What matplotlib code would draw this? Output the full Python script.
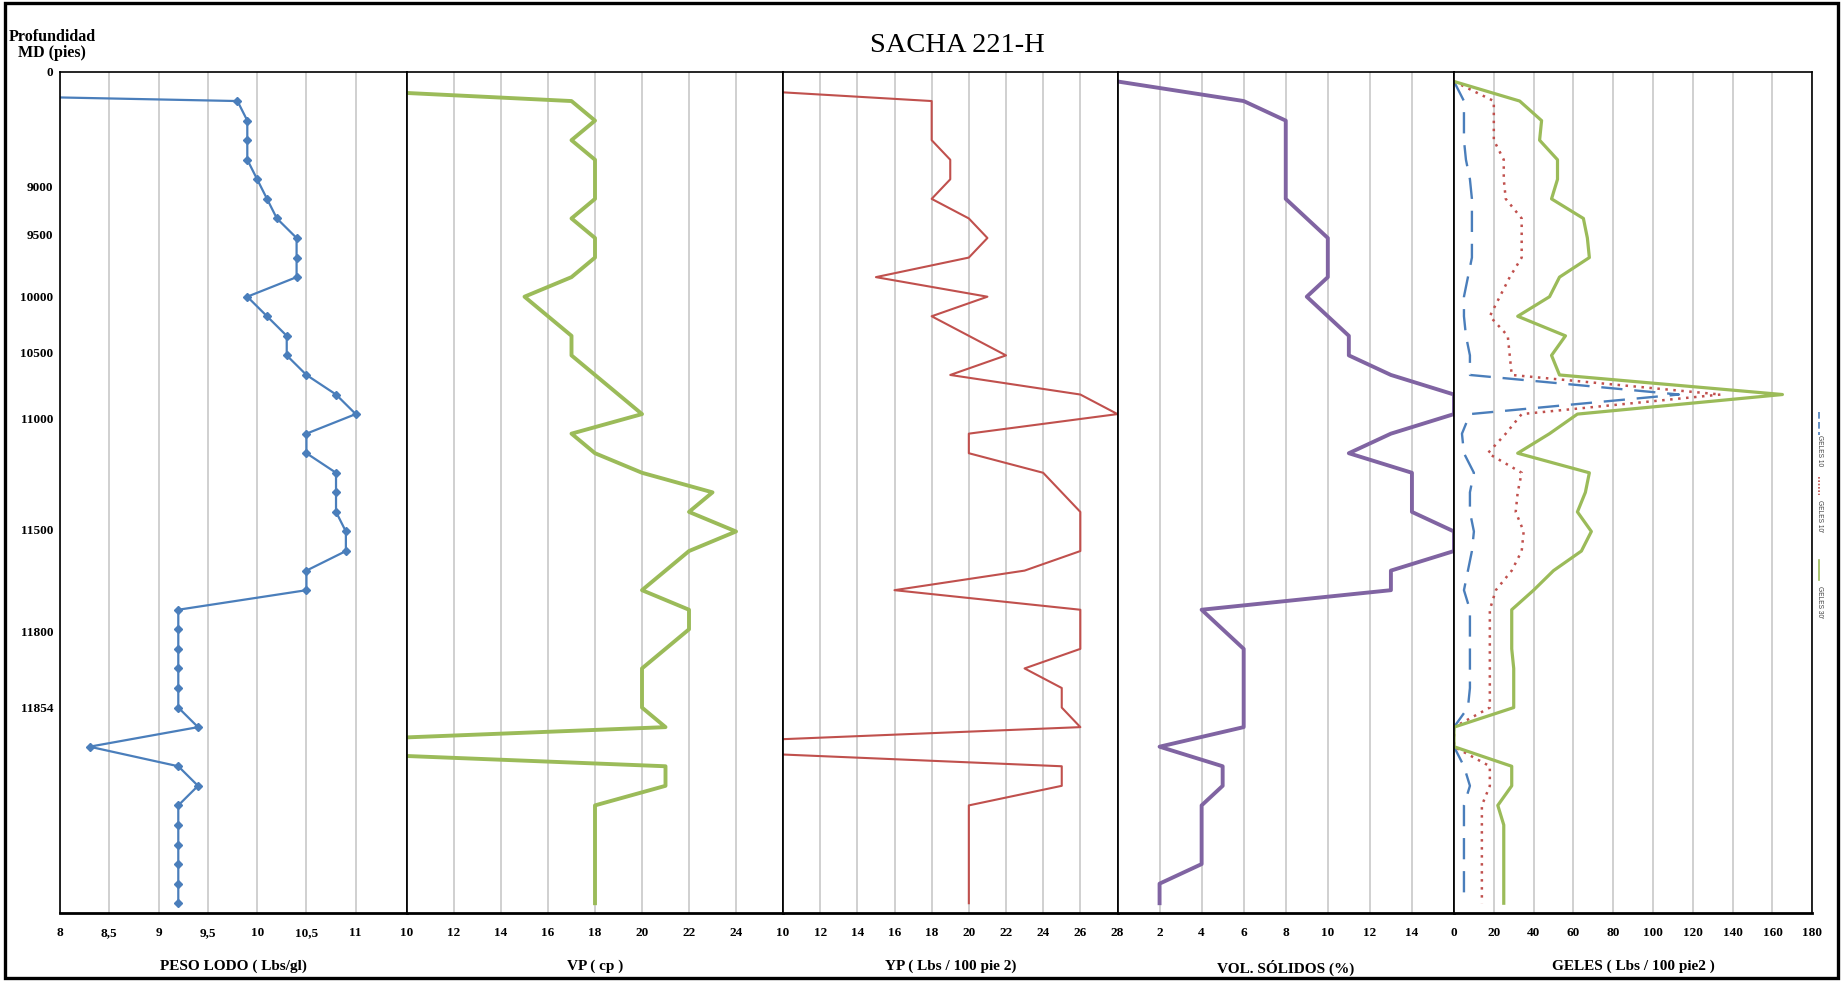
import numpy as np
import matplotlib.pyplot as plt
from matplotlib.lines import Line2D
from matplotlib.patches import Rectangle

plt.rcParams['font.family'] = ['Liberation Serif', 'DejaVu Serif']

# one value per sample, top to bottom of the well (43 samples)
peso_lodo = [0, 9.8, 9.9, 9.9, 9.9, 10.0, 10.1, 10.2, 10.4, 10.4, 10.4, 9.9, 10.1, 10.3, 10.3,
             10.5, 10.8, 11.0, 10.5, 10.5, 10.8, 10.8, 10.8, 10.9, 10.9, 10.5, 10.5, 9.2, 9.2,
             9.2, 9.2, 9.2, 9.2, 9.4, 8.3, 9.2, 9.4, 9.2, 9.2, 9.2, 9.2, 9.2, 9.2]
vp = [0, 17, 18, 17, 18, 18, 18, 17, 18, 18, 17, 15, 16, 17, 17, 18, 19, 20, 17, 18, 20, 23,
      22, 24, 22, 21, 20, 22, 22, 21, 20, 20, 20, 21, 0, 21, 21, 18, 18, 18, 18, 18, 18]
yp = [0, 18, 18, 18, 19, 19, 18, 20, 21, 20, 15, 21, 18, 20, 22, 19, 26, 28, 20, 20, 24, 25,
      26, 26, 26, 23, 16, 26, 26, 26, 23, 25, 25, 26, 0, 25, 25, 20, 20, 20, 20, 20, 20]
vol_solidos = [0, 6, 8, 8, 8, 8, 8, 9, 10, 10, 10, 9, 10, 11, 11, 13, 16, 16, 13, 11, 14, 14,
               14, 16, 16, 13, 13, 4, 5, 6, 6, 6, 6, 6, 2, 5, 5, 4, 4, 4, 4, 2, 2]
geles_10 = [0, 5, 5, 5, 6, 8, 9, 9, 9, 9, 7, 5, 5, 6, 8, 8, 113, 8, 4, 5, 10, 8, 8, 10, 9, 7,
            5, 8, 8, 8, 8, 8, 7, 0, 0, 5, 8, 5, 5, 5, 5, 5, 5]
geles_10b = [0, 20, 20, 20, 25, 25, 26, 34, 34, 34, 28, 23, 18, 27, 28, 29, 134, 34, 26, 17,
             34, 32, 31, 35, 34, 29, 21, 18, 18, 18, 18, 18, 18, 0, 0, 18, 18, 14, 14, 14, 14, 14, 14]
geles_30 = [0, 33, 44, 43, 52, 52, 49, 65, 67, 68, 53, 48, 32, 56, 49, 53, 165, 62, 48, 32,
            68, 66, 62, 69, 64, 50, 40, 29, 29, 29, 30, 30, 30, 0, 0, 29, 29, 22, 25, 25, 25, 25, 25]

depth_labels = ['0', '9000', '9500', '10000', '10500', '11000', '11500', '11800', '11854']
depth_label_pos = [-0.5, 5.35, 7.8, 11.0, 13.85, 17.2, 22.9, 28.1, 32.0]

idx = np.arange(len(peso_lodo))

W, H = 1843, 981
fig = plt.figure(figsize=(W / 100, H / 100), dpi=100)

edges = [60, 407, 783, 1117.5, 1454, 1812.3]
top, bottom = 71.7, 913

panels = [
    dict(xlim=(8, 11.52), ticks=np.arange(8, 11.01, 0.5),
         labels=['8', '8,5', '9', '9,5', '10', '10,5', '11'], xlabel='PESO LODO ( Lbs/gl)'),
    dict(xlim=(10, 26), ticks=np.arange(10, 27, 2),
         labels=[str(v) for v in range(10, 25, 2)] + [''], xlabel='VP ( cp )'),
    dict(xlim=(10, 28), ticks=np.arange(10, 29, 2),
         labels=[str(v) for v in range(10, 29, 2)], xlabel='YP ( Lbs / 100 pie 2)'),
    dict(xlim=(0, 16), ticks=np.arange(0, 17, 2),
         labels=[''] + [str(v) for v in range(2, 15, 2)] + [''], xlabel='VOL. SÓLIDOS (%)'),
    dict(xlim=(0, 180), ticks=np.arange(0, 181, 20),
         labels=[str(v) for v in range(0, 181, 20)], xlabel='GELES ( Lbs / 100 pie2 )'),
]

axes = []
for k, p in enumerate(panels):
    x0, x1 = edges[k], edges[k + 1]
    ax = fig.add_axes([x0 / W, 1 - bottom / H, (x1 - x0) / W, (bottom - top) / H])
    ax.set_xlim(*p['xlim'])
    ax.set_ylim(len(idx) - 0.5, -0.5)
    ax.set_xticks(p['ticks'], p['labels'])
    ax.tick_params(axis='x', length=0, pad=10, labelsize=9.5)
    for t in ax.get_xticklabels():
        t.set_fontweight('bold')
    ax.set_yticks([])
    ax.grid(axis='x', color='#c4c4c4', lw=1.1)
    ax.set_axisbelow(True)
    for s in ax.spines.values():
        s.set_color('black')
        s.set_linewidth(1.2)
    ax.spines['bottom'].set_linewidth(2)
    ax.set_xlabel(p['xlabel'], fontsize=11, fontweight='bold', labelpad=15)
    axes.append(ax)

# depth labels on the first track
axes[0].set_yticks(depth_label_pos, depth_labels)
axes[0].tick_params(axis='y', length=0, pad=5, labelsize=9.5)
for t in axes[0].get_yticklabels():
    t.set_fontweight('bold')

axes[0].plot(peso_lodo, idx, color='#4a7ebb', lw=1.6, marker='D', markersize=3.8)
axes[1].plot(vp, idx, color='#9bbb59', lw=2.8)
axes[2].plot(yp, idx, color='#c0504d', lw=1.5)
axes[3].plot(vol_solidos, idx, color='#8064a2', lw=2.8)
axes[4].plot(geles_10, idx, color='#4a7ebb', lw=1.7, dashes=(9, 5))
axes[4].plot(geles_10b, idx, color='#c0504d', lw=1.8, linestyle=(0, (1, 2.2)))
axes[4].plot(geles_30, idx, color='#9bbb59', lw=2.3)

# vertical legend at the right of the last track
leg_x = 1819 / W
legend_items = [('GELES 10', '#4a7ebb', (0, (4, 2)), 412, 435, 451),
                ("GELES 10'", '#c0504d', (0, (1, 1)), 477, 495, 516),
                ("GELES 30'", '#9bbb59', '-', 560, 580, 602)]
for name, col, ls, ya, yb, yt in legend_items:
    fig.add_artist(Line2D([leg_x, leg_x], [1 - ya / H, 1 - yb / H], color=col,
                          lw=1.2, linestyle=ls, transform=fig.transFigure))
    fig.text(leg_x, 1 - yt / H, name, rotation=270, ha='center', va='center',
             fontsize=4.8, family='Liberation Sans', color='#404040')

fig.text(957 / W, 1 - 45 / H, 'SACHA 221-H', ha='center', va='center', fontsize=20.5)
fig.text(52 / W, 1 - 45 / H, 'Profundidad\nMD (pies)', ha='center', va='center',
         fontsize=11.5, fontweight='bold', linespacing=1.05)

# outer frame
fig.add_artist(Rectangle((5 / W, 3 / H), 1833 / W, 975 / H, fill=False, ec='black',
                         lw=2.4, transform=fig.transFigure))

fig.savefig('out.png', dpi=100)
